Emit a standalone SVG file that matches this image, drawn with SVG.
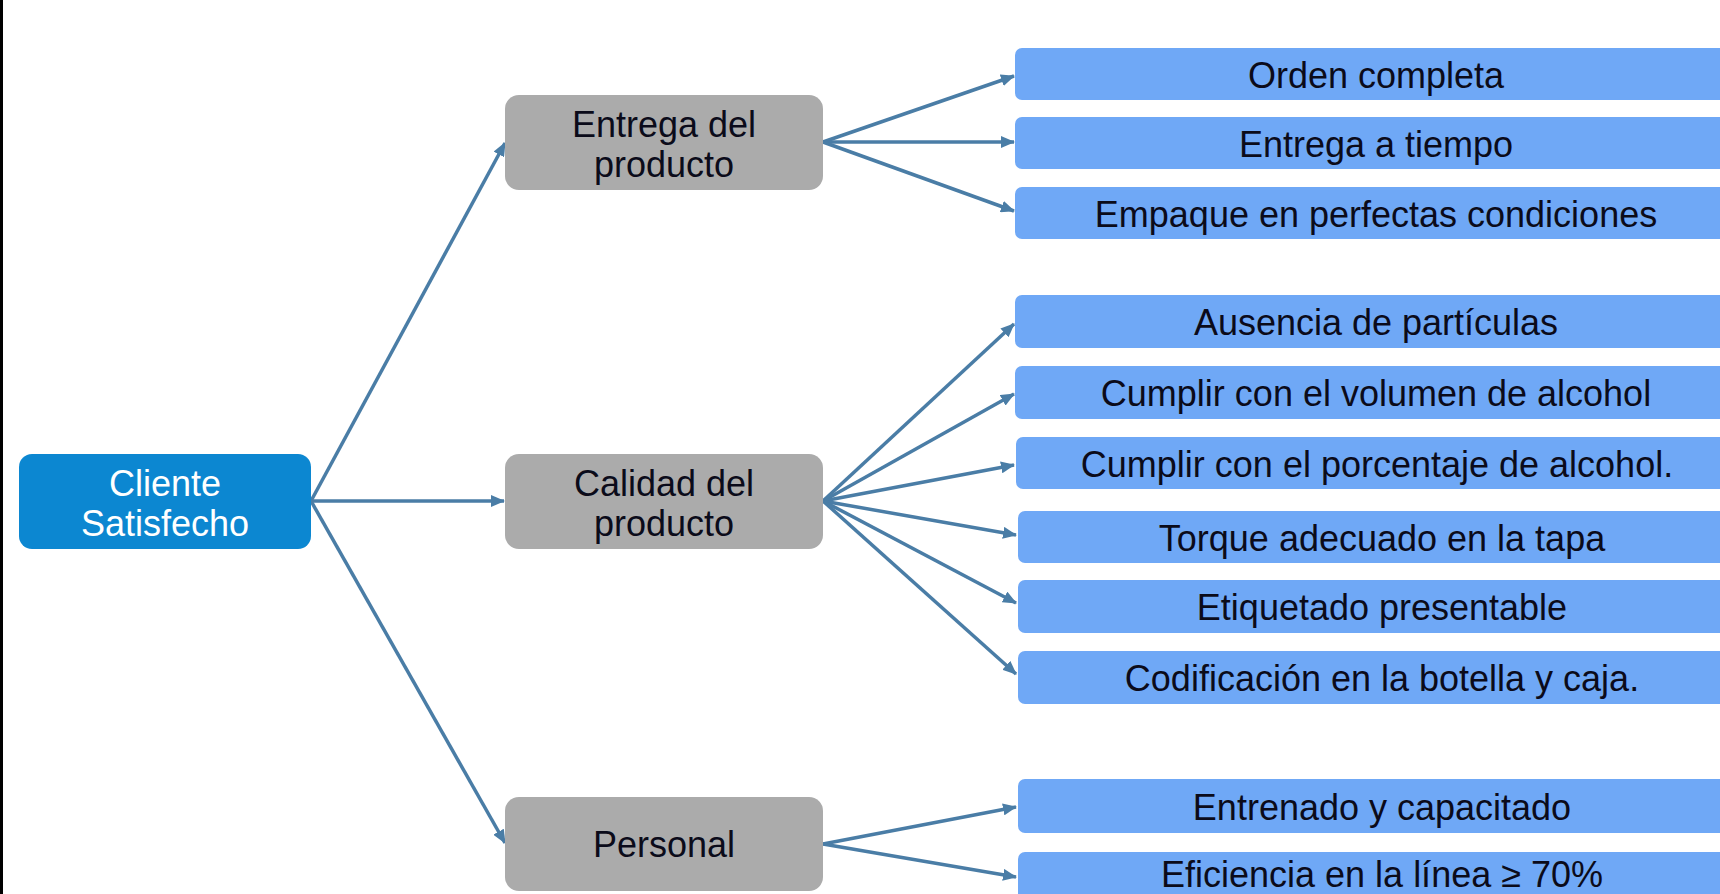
<svg xmlns="http://www.w3.org/2000/svg" width="1720" height="894" viewBox="0 0 1720 894">
<style>
text{font-family:"Liberation Sans",Arial,sans-serif;font-size:36px;text-anchor:middle}
.root{fill:#0C87D1}
.mid{fill:#ABABAB}
.leaf{fill:#6FA8F6}
.w{fill:#FFFFFF}
.d{fill:#0B0B1A}
.c{stroke:#4A7DA6;stroke-width:3.5;fill:none;marker-end:url(#ah)}
</style>
<defs>
<marker id="ah" markerUnits="userSpaceOnUse" markerWidth="16" markerHeight="12" refX="13" refY="6" orient="auto">
<path d="M0,0 L14,6 L0,12 z" fill="#4A7DA6"/>
</marker>
</defs>
<rect x="0" y="0" width="1720" height="894" fill="#FFFFFF"/>
<rect x="0" y="0" width="3" height="894" fill="#000000"/>
<g id="connectors">
<line class="c" x1="311" y1="501" x2="505" y2="143"/>
<line class="c" x1="311" y1="501" x2="504" y2="501"/>
<line class="c" x1="311" y1="501" x2="505" y2="843"/>
<line class="c" x1="823" y1="142" x2="1014" y2="76"/>
<line class="c" x1="823" y1="142" x2="1014" y2="142"/>
<line class="c" x1="823" y1="142" x2="1014" y2="211"/>
<line class="c" x1="823" y1="501" x2="1014" y2="324"/>
<line class="c" x1="823" y1="501" x2="1014" y2="394"/>
<line class="c" x1="823" y1="501" x2="1014" y2="465"/>
<line class="c" x1="823" y1="501" x2="1016" y2="535"/>
<line class="c" x1="823" y1="501" x2="1016" y2="603"/>
<line class="c" x1="823" y1="501" x2="1016" y2="674"/>
<line class="c" x1="823" y1="844" x2="1016" y2="807"/>
<line class="c" x1="823" y1="844" x2="1016" y2="877"/>
</g>
<g id="n-cliente"><rect class="root" x="19" y="454" width="292" height="95" rx="13"/><text class="w" x="165" y="496">Cliente</text><text class="w" x="165" y="536">Satisfecho</text></g>
<g id="n-entrega"><rect class="mid" x="505" y="95" width="318" height="95" rx="14"/><text class="d" x="664" y="137">Entrega del</text><text class="d" x="664" y="177">producto</text></g>
<g id="n-calidad"><rect class="mid" x="505" y="454" width="318" height="95" rx="14"/><text class="d" x="664" y="496">Calidad del</text><text class="d" x="664" y="536">producto</text></g>
<g id="n-personal"><rect class="mid" x="505" y="797" width="318" height="94" rx="14"/><text class="d" x="664" y="857">Personal</text></g>
<g id="l-orden"><rect class="leaf" x="1015" y="48" width="722" height="52" rx="7"/><text class="d" x="1376" y="88">Orden completa</text></g>
<g id="l-tiempo"><rect class="leaf" x="1015" y="117" width="722" height="52" rx="7"/><text class="d" x="1376" y="157">Entrega a tiempo</text></g>
<g id="l-empaque"><rect class="leaf" x="1015" y="187" width="722" height="52" rx="7"/><text class="d" x="1376" y="227">Empaque en perfectas condiciones</text></g>
<g id="l-ausencia"><rect class="leaf" x="1015" y="295" width="722" height="53" rx="7"/><text class="d" x="1376" y="335">Ausencia de partículas</text></g>
<g id="l-volumen"><rect class="leaf" x="1015" y="366" width="722" height="53" rx="7"/><text class="d" x="1376" y="406">Cumplir con el volumen de alcohol</text></g>
<g id="l-porcentaje"><rect class="leaf" x="1016" y="437" width="722" height="52" rx="7"/><text class="d" x="1377" y="477">Cumplir con el porcentaje de alcohol.</text></g>
<g id="l-torque"><rect class="leaf" x="1018" y="511" width="722" height="52" rx="7"/><text class="d" x="1382" y="551">Torque adecuado en la tapa</text></g>
<g id="l-etiquetado"><rect class="leaf" x="1018" y="580" width="722" height="53" rx="7"/><text class="d" x="1382" y="620">Etiquetado presentable</text></g>
<g id="l-codificacion"><rect class="leaf" x="1018" y="651" width="722" height="53" rx="7"/><text class="d" x="1382" y="691">Codificación en la botella y caja.</text></g>
<g id="l-entrenado"><rect class="leaf" x="1018" y="779" width="722" height="54" rx="7"/><text class="d" x="1382" y="820">Entrenado y capacitado</text></g>
<g id="l-eficiencia"><rect class="leaf" x="1018" y="852" width="722" height="60" rx="7"/><text class="d" x="1382" y="887">Eficiencia en la línea ≥ 70%</text></g>
</svg>
